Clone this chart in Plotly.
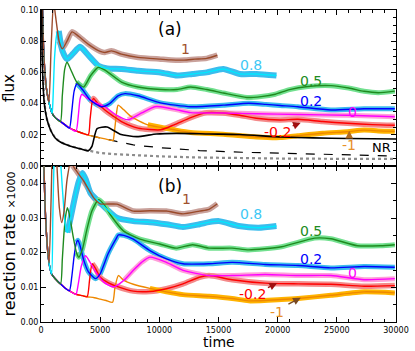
import plotly.graph_objects as go
from plotly.subplots import make_subplots

# ---------------- data ----------------
# panel (a): flux vs time
nr_t = [0, 100, 250, 450, 670, 900, 1200, 1650, 2000, 2400, 2950, 3500, 4000, 5000,
        6050, 7800, 10000, 13400, 17000, 21000, 25000, 30000]
nr_flux = [0.2, 0.11, 0.07, 0.05, 0.041, 0.0345, 0.031, 0.0285, 0.0265, 0.0245, 0.0225,
           0.021, 0.0198, 0.018, 0.0163, 0.0135, 0.0118, 0.0099, 0.0088, 0.008, 0.0072, 0.0064]

black_t = [0, 100, 275, 500, 835, 1200, 1670, 2500, 3340, 3980, 4300, 4740, 5570, 6690,
           8080, 9750, 11420, 14200, 16800, 20300, 23000, 26000, 30000]
black_flux = [0.2, 0.07, 0.0405, 0.03, 0.0226, 0.018, 0.0152, 0.0127, 0.011, 0.0097, 0.0125,
              0.024, 0.025, 0.0204, 0.0188, 0.0205, 0.0209, 0.0205, 0.0202, 0.0186, 0.018,
              0.0176, 0.0173]

dot_t = [0, 100, 275, 500, 835, 1200, 1670, 2500, 3340, 4000, 5000, 6000, 7500, 10000,
         13000, 16000, 20000, 25000, 30000]
dot_flux = [0.2, 0.07, 0.0405, 0.03, 0.0226, 0.018, 0.0152, 0.0127, 0.011, 0.0099, 0.0083,
            0.0077, 0.007, 0.0062, 0.0055, 0.0051, 0.0048, 0.0046, 0.0045]

flux_1_t = [670, 850, 1060, 1250, 1530, 1810, 2200, 2620, 3200, 4010, 5000, 5400, 5960,
            6800, 8200, 10100, 11000, 12100, 13000, 14000, 14900]
flux_1 = [0.041, 0.075, 0.105, 0.095, 0.080, 0.0752, 0.080, 0.086, 0.083, 0.078, 0.0735,
          0.0728, 0.0738, 0.0717, 0.0696, 0.0685, 0.068, 0.0679, 0.0685, 0.069, 0.071]

flux_08_t = [945, 1000, 1150, 1350, 1500, 1800, 2200, 2700, 3300, 4000, 4850, 5600, 6800,
             8200, 10100, 11500, 12800, 14000, 15400, 16800, 18200, 19900]
flux_08 = [0.034, 0.04, 0.07, 0.085, 0.0865, 0.074, 0.0685, 0.072, 0.0764, 0.071, 0.0643,
           0.0625, 0.0622, 0.061, 0.060, 0.058, 0.059, 0.060, 0.0622, 0.059, 0.059, 0.058]

flux_05_t = [1640, 1800, 2000, 2200, 2500, 3000, 3600, 4200, 4850, 5500, 6800, 8200, 10100,
             11500, 12650, 14000, 15400, 17400, 18600, 19800, 21000, 22560, 24500, 26000,
             27300, 28500, 29900]
flux_05 = [0.0285, 0.045, 0.062, 0.0665, 0.062, 0.054, 0.0506, 0.058, 0.0633, 0.061, 0.0538,
           0.0506, 0.049, 0.049, 0.0506, 0.049, 0.0468, 0.0439, 0.0445, 0.046, 0.049, 0.051,
           0.0515, 0.050, 0.0479, 0.047, 0.048]

flux_02_t = [2400, 2600, 2800, 3040, 3500, 4200, 5100, 5800, 6500, 7100, 8200, 10100, 12650,
             15400, 17550, 19000, 20200, 21700, 24500, 27300, 29900]
flux_02 = [0.0243, 0.035, 0.048, 0.0527, 0.049, 0.042, 0.038, 0.040, 0.045, 0.0464, 0.045,
           0.0405, 0.038, 0.039, 0.0402, 0.0395, 0.0388, 0.038, 0.0359, 0.0367, 0.0367]

flux_0_t = [2950, 3150, 3300, 3450, 3800, 4500, 5400, 6300, 7350, 8500, 9600, 10100, 11500,
            12650, 15400, 18200, 21700, 25900, 29900]
flux_0 = [0.0222, 0.032, 0.043, 0.046, 0.044, 0.041, 0.038, 0.033, 0.0296, 0.034, 0.038,
          0.038, 0.036, 0.0342, 0.034, 0.0335, 0.033, 0.0325, 0.0316]

flux_m02_t = [4000, 4150, 4300, 4430, 4800, 5400, 6100, 6800, 8200, 10100, 11250, 12650,
              14000, 15400, 16800, 18200, 20200, 21700, 23800, 25900, 28000, 29900]
flux_m02 = [0.020, 0.030, 0.040, 0.0433, 0.040, 0.0359, 0.032, 0.0285, 0.0243, 0.0232,
            0.0264, 0.031, 0.0342, 0.034, 0.0325, 0.0306, 0.0295, 0.030, 0.0285, 0.0274,
            0.0265, 0.0261]

flux_m1_t = [6100, 6250, 6400, 6520, 7000, 7630, 9030, 10100, 11250, 12650, 15400, 18200,
             20200, 21700, 23800, 25900, 27300, 28500, 29900]
flux_m1 = [0.0163, 0.025, 0.035, 0.039, 0.036, 0.0316, 0.0264, 0.0248, 0.0232, 0.0215,
           0.0204, 0.0186, 0.0182, 0.0194, 0.021, 0.022, 0.023, 0.0225, 0.0222]

# panel (b): reaction rate x1000 vs time
env_t = [0, 100, 250, 450, 680, 900, 1200, 1650, 2000, 2400, 2950, 3500, 3900, 4500, 5000,
         5500, 6050]
env_rate = [0.2, 0.09, 0.045, 0.026, 0.017, 0.0138, 0.0125, 0.011, 0.0099, 0.009, 0.008,
            0.0076, 0.0073, 0.007, 0.0066, 0.0062, 0.0057]

rate_1_t = [680, 850, 1000, 1150, 1350, 1550, 1750, 1950, 2200, 2500, 2900, 3620, 4460,
            5000, 6400, 7800, 9200, 10600, 12000, 13400, 14200, 14900]
rate_1 = [0.017, 0.035, 0.055, 0.06, 0.045, 0.033, 0.0287, 0.032, 0.041, 0.046, 0.044,
          0.0406, 0.0358, 0.0341, 0.034, 0.032, 0.0321, 0.032, 0.0312, 0.032, 0.0325, 0.0341]

rate_08_t = [900, 1000, 1110, 1300, 1500, 1700, 1900, 2050, 2230, 2500, 2920, 3200, 3500,
             3800, 4180, 5000, 6400, 7800, 9200, 10600, 12000, 13400, 14200, 15050, 16700,
             18380, 19900]
rate_08 = [0.0138, 0.03, 0.048, 0.065, 0.055, 0.044, 0.034, 0.028, 0.0258, 0.03, 0.0368,
           0.0406, 0.043, 0.041, 0.0372, 0.0344, 0.0301, 0.0291, 0.0288, 0.0282, 0.0274,
           0.0282, 0.0288, 0.0291, 0.0277, 0.0272, 0.0277]

rate_05_t = [1650, 1800, 1950, 2100, 2230, 2400, 2700, 3000, 3200, 3500, 3900, 4300, 4870,
             5300, 5850, 6960, 8360, 10030, 11420, 12810, 14200, 16150, 17550, 20330, 23120,
             24500, 26740, 28690, 29900]
rate_05 = [0.011, 0.018, 0.026, 0.031, 0.033, 0.031, 0.025, 0.02, 0.0187, 0.021, 0.027,
           0.032, 0.0353, 0.034, 0.031, 0.0263, 0.0239, 0.0225, 0.0213, 0.0223, 0.0213,
           0.0213, 0.0208, 0.0217, 0.0242, 0.024, 0.022, 0.022, 0.0223]

rate_02_t = [2400, 2600, 2800, 3000, 3120, 3300, 3600, 4000, 4600, 5000, 5670, 6340, 6540,
             7000, 7800, 9200, 10600, 12000, 14200, 16150, 18950, 21730, 24500, 27300, 29900]
rate_02 = [0.009, 0.013, 0.019, 0.023, 0.0236, 0.022, 0.018, 0.0145, 0.0125, 0.0139, 0.0197,
           0.024, 0.0251, 0.025, 0.0239, 0.0206, 0.0182, 0.0168, 0.0168, 0.0172, 0.0166,
           0.0163, 0.0156, 0.016, 0.0158]

rate_0_t = [2950, 3150, 3400, 3760, 4100, 4600, 5300, 6130, 7000, 7800, 8500, 9200, 10600,
            12000, 14200, 16150, 18950, 21730, 24500, 27300, 29900]
rate_0 = [0.008, 0.011, 0.016, 0.0191, 0.0175, 0.0145, 0.0115, 0.0101, 0.012, 0.0149,
          0.0172, 0.0187, 0.0172, 0.0149, 0.0134, 0.0134, 0.0137, 0.0134, 0.0134, 0.0122,
          0.0125]

rate_m02_t = [3900, 4100, 4320, 4600, 5000, 5700, 6400, 7800, 9200, 10600, 12000, 13370,
              14200, 16150, 18950, 21730, 24500, 27300, 29900]
rate_m02 = [0.0073, 0.012, 0.0168, 0.0155, 0.0129, 0.0113, 0.0103, 0.0089, 0.0088, 0.0096,
            0.011, 0.0129, 0.0134, 0.0122, 0.0112, 0.011, 0.0109, 0.0103, 0.0105]

rate_m1_t = [6050, 6250, 6540, 7000, 7800, 9200, 10600, 12000, 14200, 16150, 17550, 20330,
             21730, 24500, 27300, 29900]
rate_m1 = [0.0057, 0.010, 0.0134, 0.012, 0.0109, 0.0097, 0.0087, 0.0079, 0.0074, 0.0068,
           0.0061, 0.0065, 0.0068, 0.0077, 0.0087, 0.0084]

labels = ["1", "0.8", "0.5", "0.2", "0", "-0.2", "-1"]
time_ticks = [0, 5000, 10000, 15000, 20000, 25000, 30000]

# ---------------- styles ----------------
FONT = "DejaVu Sans"
line_col = ["#9a4a2a", "#00e8ff", "#1e8a1e", "#0000ff", "#ff00ff", "#ff0000", "#ee8800"]
band_col = ["#c9a19b", "#3cbcec", "#72e08f", "#3cbcec", "#ffa0d8", "#f48a8a", "#ffb300"]
text_col = ["#a0522d", "#3ec8f5", "#228b22", "#0000ff", "#ff00ff", "#ff0000", "#e8902a"]
band_start_a = [1500, 1500, 3000, 2900, 6500, 4300, 9000]
band_start_b = [2300, 2100, 2900, 2900, 6500, 4200, 9000]
band_w = [5.5, 6, 5, 5, 5, 5.5, 5]

flux_series = [(flux_1_t, flux_1), (flux_08_t, flux_08), (flux_05_t, flux_05),
               (flux_02_t, flux_02), (flux_0_t, flux_0), (flux_m02_t, flux_m02),
               (flux_m1_t, flux_m1)]
rate_series = [(rate_1_t, rate_1), (rate_08_t, rate_08), (rate_05_t, rate_05),
               (rate_02_t, rate_02), (rate_0_t, rate_0), (rate_m02_t, rate_m02),
               (rate_m1_t, rate_m1)]


def with_envelope(et, ey, t, y):
    # before leaving the common curve every run follows it
    pre = [(a, b) for a, b in zip(et, ey) if a < t[0]]
    return [p[0] for p in pre] + list(t), [p[1] for p in pre] + list(y)


fig = make_subplots(rows=2, cols=1, shared_xaxes=True, vertical_spacing=0)

# panel (a) reference curves
fig.add_trace(go.Scatter(x=dot_t, y=dot_flux, mode="lines",
                         line=dict(color="#8c8c8c", width=2.2, dash="dot")), row=1, col=1)
fig.add_trace(go.Scatter(x=nr_t, y=nr_flux, mode="lines",
                         line=dict(color="black", width=1.2, dash="dash")), row=1, col=1)

for row, series, env, starts in [(1, flux_series, (nr_t, nr_flux), band_start_a),
                                 (2, rate_series, (env_t, env_rate), band_start_b)]:
    # bands first
    for i, (t, y) in enumerate(series):
        bt = [a for a in t if a >= starts[i]]
        by = [b for a, b in zip(t, y) if a >= starts[i]]
        fig.add_trace(go.Scatter(x=bt, y=by, mode="lines",
                                 line=dict(color=band_col[i], width=band_w[i], shape="spline",
                                           smoothing=0.6)), row=row, col=1)
    for i, (t, y) in reversed(list(enumerate(series))):
        ft, fy = with_envelope(env[0], env[1], t, y)
        fig.add_trace(go.Scatter(x=ft, y=fy, mode="lines",
                                 line=dict(color=line_col[i], width=1.4, shape="spline",
                                           smoothing=0.6)), row=row, col=1)

fig.add_trace(go.Scatter(x=black_t, y=black_flux, mode="lines",
                         line=dict(color="black", width=1.6, shape="spline", smoothing=0.6)),
              row=1, col=1)

# ---------------- labels ----------------
lab_a = [(12200, 0.0747), (17770, 0.0646), (22790, 0.0544), (22790, 0.0418),
         (26320, 0.0348), (19970, 0.0215), (26050, 0.0135)]
lab_b = [(12260, 0.0354), (17770, 0.0312), (22790, 0.0263), (22790, 0.0182),
         (26320, 0.0141), (17910, 0.0080), (19910, 0.0029)]
for i, lab in enumerate(labels):
    fig.add_annotation(x=lab_a[i][0], y=lab_a[i][1], xref="x", yref="y", text=lab,
                       showarrow=False, font=dict(family=FONT, size=14, color=text_col[i]))
    fig.add_annotation(x=lab_b[i][0], y=lab_b[i][1], xref="x2", yref="y2", text=lab,
                       showarrow=False, font=dict(family=FONT, size=14, color=text_col[i]))

fig.add_annotation(x=28750, y=0.0116, xref="x", yref="y", text="NR", showarrow=False,
                   font=dict(family=FONT, size=13, color="black"))
fig.add_annotation(x=10860, y=0.088, xref="x", yref="y", text="(a)", showarrow=False,
                   font=dict(family=FONT, size=17, color="black"))
fig.add_annotation(x=10860, y=0.0391, xref="x2", yref="y2", text="(b)", showarrow=False,
                   font=dict(family=FONT, size=17, color="black"))
fig.add_annotation(x=0.5, y=-0.063, xref="paper", yref="paper", text="time",
                   showarrow=False, yanchor="middle",
                   font=dict(family=FONT, size=14, color="black"))

arrows = [("x", "y", 21140, 0.0253, 21950, 0.0277, "#a01010"),
          ("x", "y", 26050, 0.0172, 26050, 0.0226, "#b06a20"),
          ("x2", "y2", 19050, 0.0097, 19950, 0.0112, "#a01010"),
          ("x2", "y2", 20780, 0.0049, 21950, 0.0070, "#7a4a20")]
for xr, yr, x0, y0, x1, y1, c in arrows:
    fig.add_annotation(x=x1, y=y1, ax=x0, ay=y0, xref=xr, yref=yr, axref=xr, ayref=yr,
                       text="", showarrow=True, arrowhead=2, arrowsize=1.1,
                       arrowwidth=1.4, arrowcolor=c)

# ---------------- axes ----------------
axis_common = dict(showline=True, linecolor="black", linewidth=1, mirror="allticks",
                   ticks="inside", ticklen=5, tickcolor="black", showgrid=False,
                   zeroline=False, tickfont=dict(family=FONT, size=8, color="black"))
fig.update_xaxes(range=[0, 30000], tickvals=time_ticks,
                 ticktext=[str(v) for v in time_ticks],
                 minor=dict(dtick=1000, ticks="inside", ticklen=3, tickcolor="black"),
                 **axis_common)
fig.update_xaxes(showticklabels=False, row=1, col=1)
fig.update_yaxes(range=[0, 0.1], dtick=0.02, tickformat=".2f",
                 minor=dict(dtick=0.005, ticks="inside", ticklen=3, tickcolor="black"),
                 title=dict(text="flux", font=dict(family=FONT, size=15, color="black"),
                            standoff=3),
                 row=1, col=1, **axis_common)
fig.update_yaxes(range=[0, 0.045], tickvals=[0, 0.01, 0.02, 0.03, 0.04], tickformat=".2f",
                 minor=dict(dtick=0.005, ticks="inside", ticklen=3, tickcolor="black"),
                 title=dict(text="reaction rate <span style='font-size:11px'>×1000</span>",
                            font=dict(family=FONT, size=16, color="black"), standoff=3),
                 row=2, col=1, **axis_common)

fig.update_layout(width=415, height=351, margin=dict(l=40, r=16, t=6, b=29),
                  showlegend=False, plot_bgcolor="white", paper_bgcolor="white",
                  font=dict(family=FONT))

# the page's default body margin would shift the figure by 8px
fig.write_html("out.html", config={"displayModeBar": False},
               post_script="document.body.style.margin='0';")
